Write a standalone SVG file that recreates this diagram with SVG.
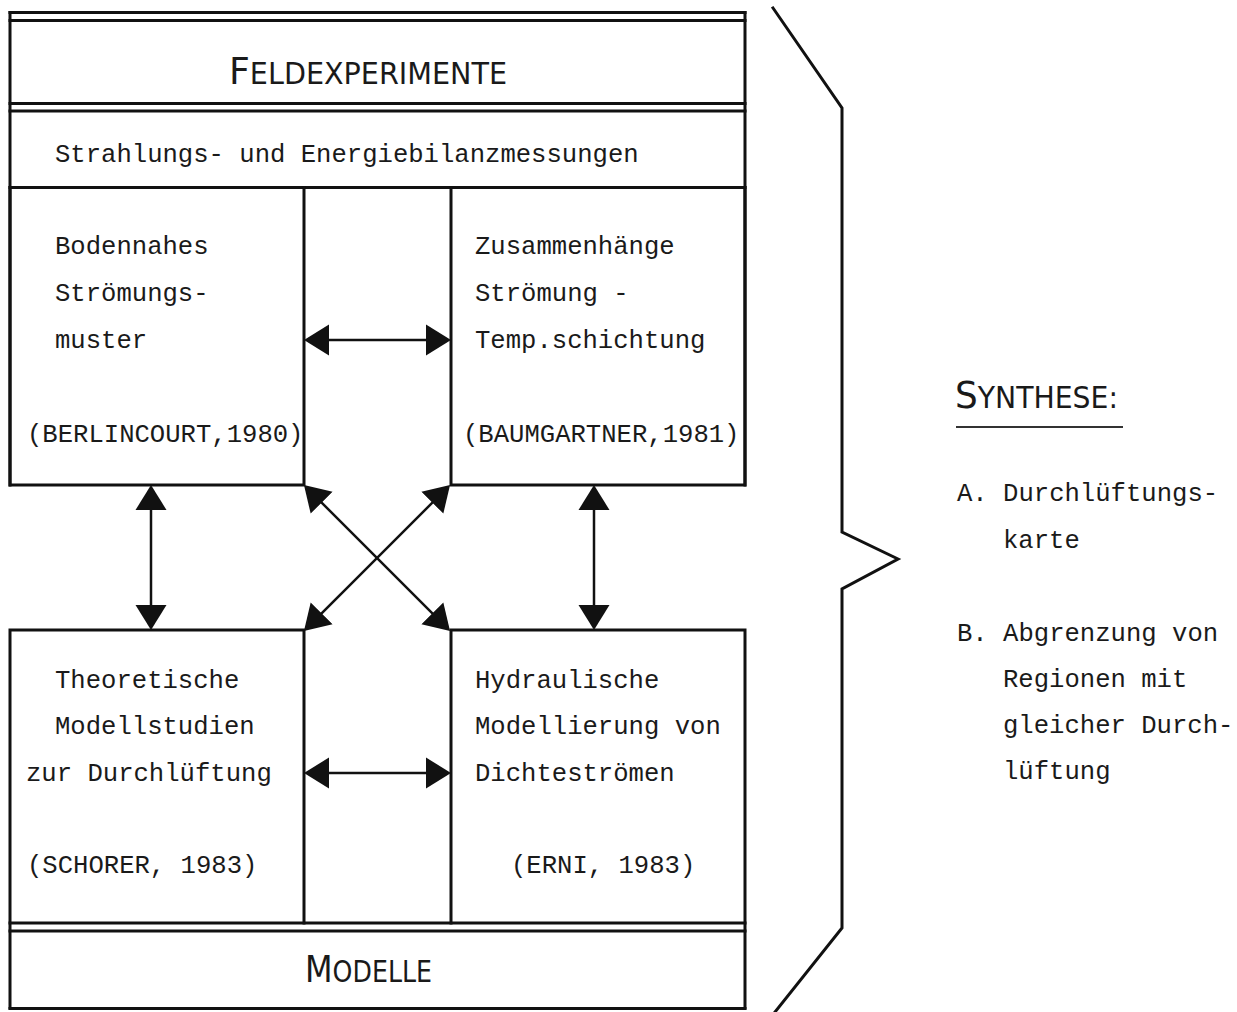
<svg xmlns="http://www.w3.org/2000/svg" width="1237" height="1012" viewBox="0 0 1237 1012">
<style>
  .ln { stroke:#111; stroke-width:3; fill:none; stroke-linecap:square; }
  .arr { stroke:#111; stroke-width:2.5; fill:none; }
  .mono { font-family:'Liberation Mono','DejaVu Sans Mono',monospace; font-size:25.6px; fill:#1a1a1a; }
  .caps { font-family:'DejaVu Sans Condensed','DejaVu Sans',sans-serif; font-stretch:condensed; font-weight:300; fill:#1a1a1a; }
</style>
<defs>
  <marker id="head" markerUnits="userSpaceOnUse" markerWidth="30" markerHeight="36" viewBox="0 -18 30 36" refX="5" refY="0" orient="auto-start-reverse">
    <path d="M0,-15.5 L25,0 L0,15.5 Z" fill="#111"/>
  </marker>
</defs>
<rect x="0" y="0" width="1237" height="1012" fill="#fff"/>

<g id="header-feldexperimente">
  <line class="ln" x1="10" y1="12.5" x2="745" y2="12.5"/>
  <line class="ln" x1="10" y1="20.5" x2="745" y2="20.5"/>
  <line class="ln" x1="10" y1="103.5" x2="745" y2="103.5"/>
  <text class="caps" x="229" y="84" textLength="278" lengthAdjust="spacingAndGlyphs"><tspan font-size="38">F</tspan><tspan font-size="30">ELDEXPERIMENTE</tspan></text>
</g>

<g id="strahlung">
  <line class="ln" x1="10" y1="111" x2="745" y2="111"/>
  <line class="ln" x1="10" y1="187.5" x2="745" y2="187.5"/>
  <text class="mono" x="55" y="162">Strahlungs- und Energiebilanzmessungen</text>
</g>

<g id="frame-top">
  <line class="ln" x1="10" y1="12.5" x2="10" y2="485"/>
  <line class="ln" x1="745" y1="12.5" x2="745" y2="485"/>
</g>

<g id="box-berlincourt">
  <polyline class="ln" points="10,187.5 10,485 304,485 304,187.5"/>
  <text class="mono" x="55" y="254">Bodennahes</text>
  <text class="mono" x="55" y="301">Strömungs-</text>
  <text class="mono" x="55" y="348">muster</text>
  <text class="mono" x="27" y="442">(BERLINCOURT,1980)</text>
</g>

<g id="box-baumgartner">
  <polyline class="ln" points="451,187.5 451,485 745,485 745,187.5"/>
  <text class="mono" x="475" y="254">Zusammenhänge</text>
  <text class="mono" x="475" y="301">Strömung -</text>
  <text class="mono" x="475" y="348">Temp.schichtung</text>
  <text class="mono" x="463" y="442">(BAUMGARTNER,1981)</text>
</g>

<g id="box-schorer">
  <polyline class="ln" points="10,1008 10,630 304,630 304,923"/>
  <text class="mono" x="55" y="688">Theoretische</text>
  <text class="mono" x="55" y="734">Modellstudien</text>
  <text class="mono" x="26" y="781">zur Durchlüftung</text>
  <text class="mono" x="27" y="873">(SCHORER, 1983)</text>
</g>

<g id="box-erni">
  <polyline class="ln" points="451,923 451,630 745,630 745,1008"/>
  <text class="mono" x="475" y="688">Hydraulische</text>
  <text class="mono" x="475" y="734">Modellierung von</text>
  <text class="mono" x="475" y="781">Dichteströmen</text>
  <text class="mono" x="511" y="873">(ERNI, 1983)</text>
</g>

<g id="footer-modelle">
  <line class="ln" x1="10" y1="923" x2="745" y2="923"/>
  <line class="ln" x1="10" y1="931" x2="745" y2="931"/>
  <line class="ln" x1="10" y1="1008.5" x2="745" y2="1008.5"/>
  <text class="caps" x="305" y="982" textLength="127" lengthAdjust="spacingAndGlyphs"><tspan font-size="38">M</tspan><tspan font-size="30">ODELLE</tspan></text>
</g>

<g id="connectors">
  <line class="arr" x1="324" y1="340" x2="431" y2="340" marker-start="url(#head)" marker-end="url(#head)"/>
  <line class="arr" x1="324" y1="773" x2="431" y2="773" marker-start="url(#head)" marker-end="url(#head)"/>
  <line class="arr" x1="151" y1="505" x2="151" y2="610" marker-start="url(#head)" marker-end="url(#head)"/>
  <line class="arr" x1="594" y1="505" x2="594" y2="610" marker-start="url(#head)" marker-end="url(#head)"/>
  <line class="arr" x1="318.1" y1="499.1" x2="435.9" y2="616.9" marker-start="url(#head)" marker-end="url(#head)"/>
  <line class="arr" x1="435.9" y1="499.1" x2="318.1" y2="616.9" marker-start="url(#head)" marker-end="url(#head)"/>
</g>

<g id="brace">
  <polyline class="ln" stroke-linejoin="miter" stroke-linecap="butt" points="773,8 842,108 842,532 898,559 842,589 842,928 775,1012"/>
</g>

<g id="synthese">
  <text class="caps" x="955" y="408" textLength="163" lengthAdjust="spacingAndGlyphs"><tspan font-size="38">S</tspan><tspan font-size="30">YNTHESE:</tspan></text>
  <line x1="956" y1="427" x2="1123" y2="427" stroke="#333" stroke-width="1.8"/>
  <text class="mono" x="957" y="501">A. Durchlüftungs-</text>
  <text class="mono" x="1003" y="548">karte</text>
  <text class="mono" x="957" y="641">B. Abgrenzung von</text>
  <text class="mono" x="1003" y="687">Regionen mit</text>
  <text class="mono" x="1003" y="733">gleicher Durch-</text>
  <text class="mono" x="1003" y="779">lüftung</text>
</g>
</svg>
